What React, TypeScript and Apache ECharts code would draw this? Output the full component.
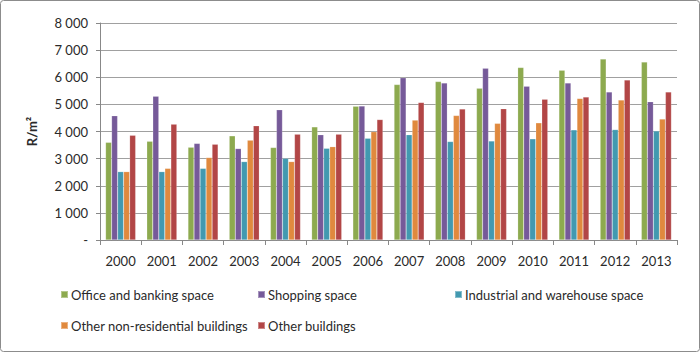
import React, { useEffect, useRef } from "react";
import * as echarts from "echarts";

const years = ["2000", "2001", "2002", "2003", "2004", "2005", "2006", "2007", "2008", "2009", "2010", "2011", "2012", "2013"];
const seriesNames = [
  "Office and banking space",
  "Shopping space",
  "Industrial and warehouse space",
  "Other non-residential buildings",
  "Other buildings",
];
const office = [3600, 3640, 3420, 3840, 3410, 4170, 4930, 5730, 5840, 5590, 6360, 6260, 6670, 6560];
const shopping = [4580, 5300, 3560, 3370, 4800, 3880, 4940, 5980, 5790, 6330, 5670, 5790, 5460, 5100];
const industrial = [2520, 2520, 2640, 2890, 3010, 3380, 3750, 3880, 3630, 3650, 3730, 4060, 4070, 4020];
const otherNonRes = [2520, 2640, 3040, 3680, 2890, 3440, 3990, 4420, 4590, 4300, 4320, 5220, 5160, 4460];
const otherBuildings = [3860, 4270, 3530, 4210, 3900, 3900, 4440, 5070, 4830, 4840, 5190, 5270, 5900, 5460];
const colors = ["#8DAA4F", "#765A99", "#4299B0", "#E0893E", "#B24646"];

const FONT = "Lato, 'Open Sans', sans-serif";

export default function App() {
  const ref = useRef<HTMLDivElement>(null);
  useEffect(() => {
    document.body.style.margin = "0";
    if (!ref.current) return;
    const chart = echarts.init(ref.current, null, { renderer: "svg" });
    const data = [office, shopping, industrial, otherNonRes, otherBuildings];
    const legendPos = [
      { left: 60, top: 288 },
      { left: 257, top: 288 },
      { left: 454, top: 288 },
      { left: 60, top: 319 },
      { left: 257, top: 319 },
    ];
    chart.setOption({
      animation: false,
      color: colors,
      textStyle: { fontFamily: FONT },
      graphic: [
        {
          type: "rect",
          shape: { x: 0.5, y: 0.5, width: 699, height: 351, r: 3 },
          style: { fill: "none", stroke: "#8c8c8c", lineWidth: 1 },
          silent: true,
        },
      ],
      legend: seriesNames.map((n, i) => ({
        data: [n],
        left: legendPos[i].left,
        top: legendPos[i].top,
        itemWidth: 7,
        itemHeight: 7,
        icon: "rect",
        padding: 0,
        textStyle: { fontFamily: FONT, fontSize: 13, color: "#2a2a2a", padding: [0, 0, 0, -2] },
        selectedMode: false,
      })),
      grid: { left: 100, right: 23, top: 23, bottom: 112 },
      xAxis: {
        type: "category",
        data: years,
        axisLine: { lineStyle: { color: "#888", width: 1 } },
        axisTick: { show: true, length: 5, alignWithLabel: false, lineStyle: { color: "#888" } },
        axisLabel: { fontSize: 13, color: "#2a2a2a", margin: 14, fontFamily: FONT },
      },
      yAxis: {
        type: "value",
        min: 0,
        max: 8000,
        interval: 1000,
        name: "R/m²",
        nameLocation: "middle",
        nameGap: 62,
        nameRotate: 90,
        nameTextStyle: { fontSize: 13, fontWeight: "bold", color: "#2a2a2a", fontFamily: FONT },
        axisLine: { show: true, lineStyle: { color: "#888", width: 1 } },
        axisTick: { show: true, length: 4, lineStyle: { color: "#888" } },
        axisLabel: {
          fontSize: 13,
          color: "#2a2a2a",
          margin: 12,
          fontFamily: FONT,
          formatter: (v: number) => (v === 0 ? "-" : String(v).replace(/\B(?=(\d{3})+(?!\d))/g, " ")),
        },
        splitLine: { lineStyle: { color: "#a0a0a0", width: 1 } },
      },
      series: seriesNames.map((n, i) => ({
        name: n,
        type: "bar",
        data: data[i],
        barGap: "0%",
        barCategoryGap: "27%",
        itemStyle: { color: colors[i], borderColor: "rgba(255,255,255,0.35)", borderWidth: 0.5 },
      })),
    });
    return () => chart.dispose();
  }, []);
  return <div ref={ref} style={{ width: 700, height: 352 }} />;
}
